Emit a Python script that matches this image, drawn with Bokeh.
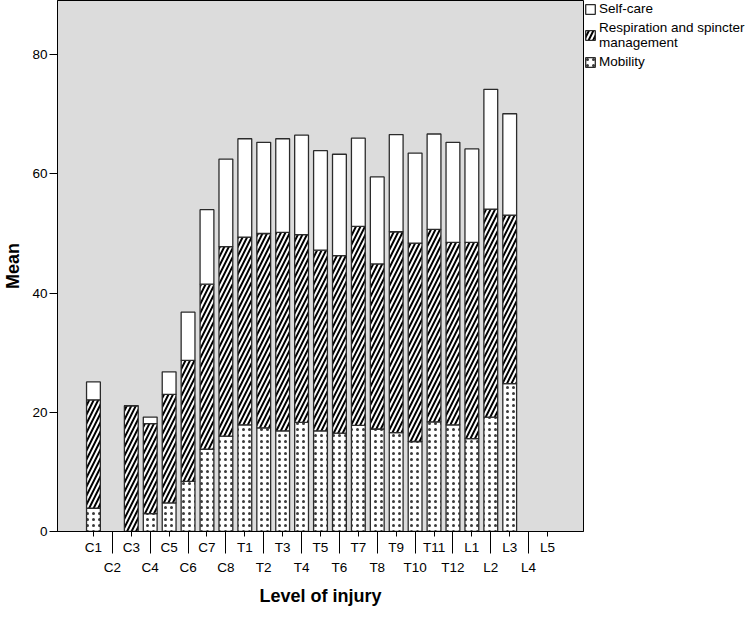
from bokeh.plotting import figure
from bokeh.models import Range1d, FixedTicker, LinearAxis, Legend, LegendItem, ColumnDataSource
from bokeh.embed import file_html
from bokeh.resources import INLINE

nan = float("nan")

levels = ["C1", "C2", "C3", "C4", "C5", "C6", "C7", "C8",
          "T1", "T2", "T3", "T4", "T5", "T6", "T7", "T8", "T9", "T10", "T11", "T12",
          "L1", "L2", "L3", "L4", "L5"]

mobility = [3.9, nan, 0.0, 3.0, 4.8, 8.4, 13.8, 16.0,
            17.9, 17.4, 16.9, 18.3, 16.9, 16.5, 17.8, 17.2, 16.6, 15.1, 18.4, 17.9,
            15.6, 19.2, 24.8, nan, nan]
respiration = [18.2, nan, 21.1, 15.1, 18.2, 20.3, 27.7, 31.8,
               31.5, 32.6, 33.3, 31.5, 30.3, 29.8, 33.4, 27.7, 33.7, 33.3, 32.3, 30.6,
               32.9, 34.9, 28.3, nan, nan]
self_care = [3.0, nan, 0.0, 1.1, 3.8, 8.1, 12.5, 14.7,
             16.5, 15.3, 15.7, 16.7, 16.7, 17.0, 14.8, 14.6, 16.3, 15.1, 16.0, 16.8,
             15.7, 20.1, 17.0, nan, nan]

y_ticks = [0, 20, 40, 60, 80]
series_names = ["Mobility", "Respiration and spincter\nmanagement", "Self-care"]

FONT = "Liberation Sans"

positions = list(range(len(levels)))
source = ColumnDataSource(dict(x=positions, mobility=mobility,
                               respiration=respiration, self_care=self_care))

p = figure(frame_width=526, frame_height=531,
           x_range=Range1d(-1.9, 25.9), y_range=Range1d(0, 89.1),
           output_backend="svg", toolbar_location=None,
           min_border_left=48, min_border_top=0, min_border_right=0, min_border_bottom=0,
           background_fill_color="#dcdcdc", border_fill_color="white")
p.outline_line_color = "black"
p.outline_line_width = 1
p.xgrid.visible = False
p.ygrid.visible = False

rs = p.vbar_stack(["mobility", "respiration", "self_care"], x="x", width=0.73, source=source,
                  fill_color=["white", "black", "white"],
                  line_color="#2b2b2b", line_width=1.3,
                  hatch_pattern=[".", "/", " "],
                  hatch_color=["#3a3a3a", "white", "white"],
                  hatch_scale=[6, 9, 8],
                  hatch_weight=[1.3, 2.0, 1])

# y axis
ya = p.yaxis[0]
ya.ticker = FixedTicker(ticks=y_ticks)
ya.minor_tick_line_color = None
ya.major_tick_in = 0
ya.major_tick_out = 8
ya.major_label_standoff = 2
ya.axis_line_color = "black"
ya.major_tick_line_color = "black"
ya.major_label_text_font = FONT
ya.major_label_text_font_size = "13.5px"
ya.major_label_text_color = "black"
ya.axis_label = "Mean"
ya.axis_label_text_font = FONT
ya.axis_label_text_font_style = "bold"
ya.axis_label_text_font_size = "18px"
ya.axis_label_text_color = "black"
ya.axis_label_standoff = 6

# x axis, first row of labels (short ticks) and long ticks for the second row
row1 = positions[0::2]
row2 = positions[1::2]
xa = p.xaxis[0]
xa.ticker = FixedTicker(ticks=row1, minor_ticks=row2)
xa.major_tick_in = 0
xa.major_tick_out = 5
xa.minor_tick_in = 0
xa.minor_tick_out = 22
xa.major_tick_line_color = "black"
xa.minor_tick_line_color = "black"
xa.axis_line_color = "black"
xa.major_label_standoff = -14
xa.major_label_overrides = {i: levels[i] for i in row1}
xa.major_label_text_font = FONT
xa.major_label_text_font_size = "13.5px"
xa.major_label_text_color = "black"

# x axis, second row of labels plus title
xa2 = LinearAxis(ticker=FixedTicker(ticks=row2, minor_ticks=[]))
xa2.axis_line_color = None
xa2.major_tick_line_color = None
xa2.minor_tick_line_color = None
xa2.major_tick_in = 0
xa2.major_tick_out = 0
xa2.major_label_standoff = 2
xa2.major_label_overrides = {i: levels[i] for i in row2}
xa2.major_label_text_font = FONT
xa2.major_label_text_font_size = "13.5px"
xa2.major_label_text_color = "black"
xa2.axis_label = "Level of injury"
xa2.axis_label_text_font = FONT
xa2.axis_label_text_font_style = "bold"
xa2.axis_label_text_font_size = "18px"
xa2.axis_label_text_color = "black"
xa2.axis_label_standoff = 8
p.add_layout(xa2, "below")

legend = Legend(items=[LegendItem(label=series_names[2], renderers=[rs[2]]),
                       LegendItem(label=series_names[1], renderers=[rs[1]]),
                       LegendItem(label=series_names[0], renderers=[rs[0]])],
                location="top_left")
legend.border_line_color = None
legend.background_fill_alpha = 0
legend.padding = 0
legend.margin = 1
legend.spacing = 4
legend.glyph_width = 12
legend.glyph_height = 12
legend.label_standoff = 3
legend.label_text_font = FONT
legend.label_text_font_size = "13.5px"
legend.label_text_color = "black"
legend.label_height = 12
p.add_layout(legend, "right")

open("out.html", "w").write(file_html(p, INLINE))
